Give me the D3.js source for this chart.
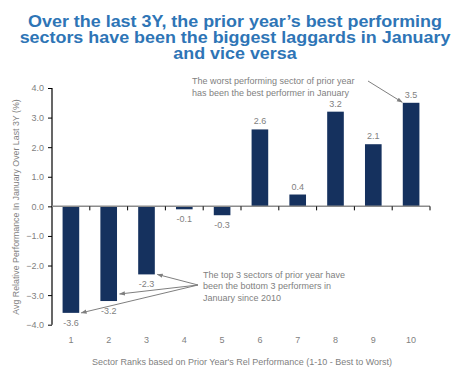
<!DOCTYPE html>
<html><head><meta charset="utf-8">
<script src="https://cdn.jsdelivr.net/npm/d3@7"></script>
<style>body{margin:0;background:#fff;}svg{display:block;}</style>
</head><body>
<svg id="c" width="465" height="370"></svg>
<script>
const categories = ["1","2","3","4","5","6","7","8","9","10"];
const values = [-3.6,-3.2,-2.3,-0.1,-0.3,2.6,0.4,3.2,2.1,3.5];
const valueLabels = ["-3.6","-3.2","-2.3","-0.1","-0.3","2.6","0.4","3.2","2.1","3.5"];
const yTicks = [-4,-3,-2,-1,0,1,2,3,4];
const titleLines = ["Over the last 3Y, the prior year\u2019s best performing","sectors have been the biggest laggards in January","and vice versa"];
const yTitle = "Avg Relative Performance In January Over Last 3Y (%)";
const xTitle = "Sector Ranks based on Prior Year's Rel Performance (1-10 - Best to Worst)";
const note1 = ["The top 3 sectors of prior year have","been the bottom 3 performers in","January since 2010"];
const note2 = ["The worst performing sector of prior year","has been the best performer in January"];

const svg = d3.select("#c");
const F = "Arial, 'Liberation Sans', sans-serif";
const gray = "#7f7f7f";
const x = d3.scaleBand().domain(categories).range([52,430]).paddingInner(0.56).paddingOuter(0.28);
const y = d3.scaleLinear().domain([-4,4]).range([324.7,88]);

const defs = svg.append("defs");
defs.append("marker").attr("id","ah").attr("viewBox","0 0 10 10").attr("refX",9).attr("refY",5)
  .attr("markerWidth",6).attr("markerHeight",6).attr("orient","auto-start-reverse")
  .append("path").attr("d","M0,1.5L10,5L0,8.5z").attr("fill",gray);

// title (slightly stretched horizontally like the reference)
svg.append("g").attr("transform","translate(235,0) scale(1.12,1)")
  .append("text").attr("x",0).attr("y",27).attr("text-anchor","middle")
  .attr("font-family",F).attr("font-weight","bold").attr("font-size",16).attr("fill","#2E75B6")
  .selectAll("tspan").data(titleLines).join("tspan").attr("x",0).attr("dy",(d,i)=>i?16:0).text(d=>d);

// y axis
const ya = svg.append("g").attr("transform","translate(52,0)")
  .call(d3.axisLeft(y).tickValues(yTicks).tickFormat(d3.format(".1f")).tickSize(4).tickPadding(4));
ya.select(".domain").attr("stroke","#000").attr("stroke-width",1.2).attr("d","M0,88V324.7");
ya.selectAll(".tick line").attr("stroke","#000");
ya.selectAll(".tick text").attr("font-family",F).attr("font-size",9).attr("fill",gray);

// bars
svg.append("g").selectAll("rect").data(values).join("rect")
  .attr("x",(d,i)=>x(categories[i])).attr("width",x.bandwidth())
  .attr("y",d=>y(Math.max(0,d))).attr("height",d=>Math.abs(y(d)-y(0)))
  .attr("fill","#15315E");

// zero line with category ticks
const xa = svg.append("g").attr("transform",`translate(0,${y(0)})`)
  .call(d3.axisBottom(x).tickSize(0).tickFormat(""));
xa.select(".domain").attr("stroke","#8c8c8c").attr("stroke-width",1.5).attr("d","M52,0H430");
const step = x.step();
svg.append("g").selectAll("line").data(d3.range(1,11)).join("line")
  .attr("x1",d=>52+d*step).attr("x2",d=>52+d*step).attr("y1",y(0)).attr("y2",y(0)+4)
  .attr("stroke","#000").attr("stroke-width",1);

// category labels
svg.append("g").selectAll("text").data(categories).join("text")
  .attr("x",d=>x(d)+x.bandwidth()/2).attr("y",343).attr("text-anchor","middle")
  .attr("font-family",F).attr("font-size",9).attr("fill",gray).text(d=>d);

// value labels
svg.append("g").selectAll("text").data(values).join("text")
  .attr("x",(d,i)=>x(categories[i])+x.bandwidth()/2)
  .attr("y",d=>d>=0?y(d)-5:y(d)+13).attr("text-anchor","middle")
  .attr("font-family",F).attr("font-size",9).attr("fill",gray).text((d,i)=>valueLabels[i]);

// axis titles
svg.append("text").attr("transform","translate(19,207) rotate(-90)").attr("text-anchor","middle")
  .attr("font-family",F).attr("font-size",8.8).attr("fill",gray).text(yTitle);
svg.append("text").attr("x",242).attr("y",365).attr("text-anchor","middle")
  .attr("font-family",F).attr("font-size",9).attr("fill",gray).text(xTitle);

// annotations
svg.append("text").attr("font-family",F).attr("font-size",9).attr("fill",gray)
  .selectAll("tspan").data(note1).join("tspan").attr("x",203).attr("y",(d,i)=>278+i*11.3).text(d=>d);
svg.append("text").attr("font-family",F).attr("font-size",9).attr("fill",gray)
  .selectAll("tspan").data(note2).join("tspan").attr("x",192).attr("y",(d,i)=>84+i*12).text(d=>d);

const arrows = [
  [198,285, x("3")+x.bandwidth()+2.5, y(values[2])],
  [198,285, x("2")+x.bandwidth()+2.5, y(values[1])-7],
  [198,285, x("1")+x.bandwidth()+2, y(values[0])],
  [368,81, x("10")-0.5, y(values[9])-0.5]
];
svg.append("g").selectAll("line").data(arrows).join("line")
  .attr("x1",d=>d[0]).attr("y1",d=>d[1]).attr("x2",d=>d[2]).attr("y2",d=>d[3])
  .attr("stroke",gray).attr("stroke-width",1).attr("marker-end","url(#ah)");
</script>
</body></html>
